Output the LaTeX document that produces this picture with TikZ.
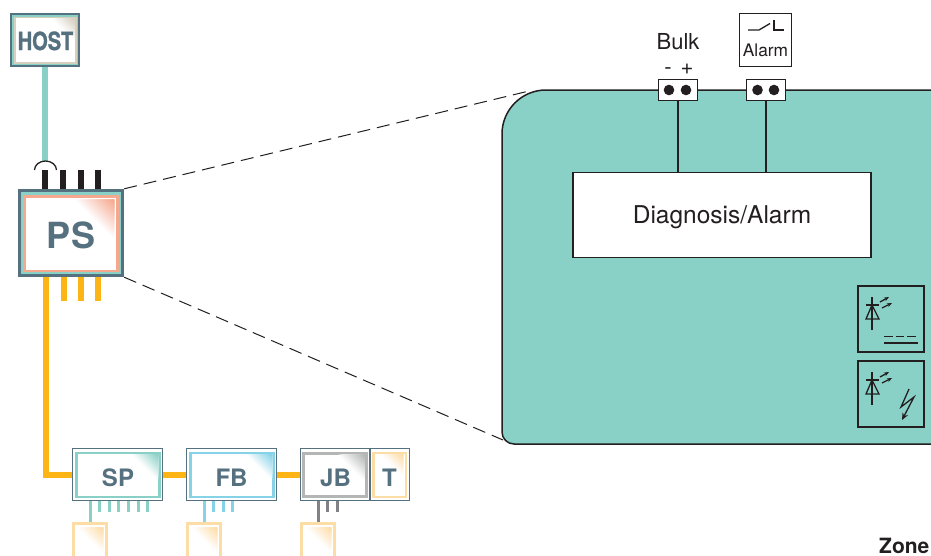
\documentclass[tikz,border=0pt]{standalone}
\usepackage{fontspec}
\setmainfont{TeX Gyre Heros}
\usetikzlibrary{arrows.meta}
\definecolor{slate}{HTML}{55707F}
\definecolor{teal1}{HTML}{89D1C7}
\definecolor{amberline}{HTML}{FDB515}
\definecolor{salmon}{HTML}{F5A88E}
\definecolor{sand}{HTML}{D5CFBE}
\definecolor{sky}{HTML}{86D3E8}
\definecolor{greyb}{HTML}{B4B6B6}
\definecolor{greyl}{HTML}{808285}
\definecolor{peach}{HTML}{FDDDA6}
\definecolor{ink}{HTML}{231F20}
\tikzset{
  x=1pt,y=-1pt,
  lbl/.style={font=\bfseries\fontsize{#1}{#1}\selectfont,text=slate,inner sep=0pt,anchor=base},
  plain/.style={font=\fontsize{#1}{#1}\selectfont,text=ink,inner sep=0pt,anchor=base},
  bus/.style={amberline,line width=6pt},
  wire/.style={ink,line width=1.6pt},
  zoomline/.style={ink,line width=1pt,dash pattern=on 13pt off 7pt},
  sym/.style={ink,line width=1.3pt},
  shell/.style={fill=slate,inner sep=0pt,minimum width=#1},
  symbox/.style={draw=ink,line width=1.6pt,minimum width=66pt,minimum height=66pt,inner sep=0pt},
  term/.style={draw=ink,fill=white,line width=1.5pt,minimum width=39pt,minimum height=21pt,inner sep=0pt},
  dot/.style={ink},
  thin stub/.style={line width=3pt},
}
% \cornerfade{x of corner}{y of corner}{leg}{colour}: triangle, full colour in the corner, white on its diagonal
\newcommand{\cornerfade}[4]{%
  \foreach \i in {0,...,23}{%
    \pgfmathsetmacro{\legnow}{#3*(1-\i/24)}%
    \pgfmathsetmacro{\pct}{(\i+1)*100/24}%
    \fill[#4!\pct!white] (#1-\legnow,#2) -- (#1,#2) -- (#1,#2+\legnow) -- cycle;
  }}
\newcommand{\diodesym}[1]{%
  \draw[sym] (872,#1+297) -- (872,#1+330);
  \draw[sym] (866,#1+305) -- (879,#1+305);
  \draw[sym,line join=miter] (872,#1+305) -- (879,#1+319) -- (866,#1+319) -- cycle;
  \draw[sym,-{Stealth[length=5pt,width=4pt]}] (880,#1+302) -- (889,#1+297);
  \draw[sym,-{Stealth[length=5pt,width=4pt]}] (882,#1+308) -- (892,#1+303);
}
\begin{document}
\begin{tikzpicture}
\useasboundingbox (0,0) rectangle (931,555);
\fill[white] (0,0) rectangle (931,555);

% HOST
\node[shell=70pt,minimum height=54pt] (hostbox) at (45,40) {};
\fill[teal1] (12,15) rectangle (78,65);
\fill[sand] (13.5,16.5) rectangle (76.5,63.5);
\fill[white] (16,18) rectangle (75,62);
\cornerfade{74.5}{18.5}{22}{sand}
\node[lbl=25] (host) at (45.5,50) {\addfontfeature{FakeStretch=0.8,FakeBold=1.2}HOST};

% PS
\node[shell=106pt,minimum height=88pt] (psbox) at (71,233) {};
\fill[teal1] (21,192) rectangle (121,274);
\fill[salmon] (23,194.5) rectangle (119,272);
\fill[white] (26,197.5) rectangle (116,269.5);
\cornerfade{114}{199.5}{39}{salmon}
\node[lbl=36] (ps) at (71,248) {PS};

% Field modules
\node[shell=91pt,minimum height=53pt] (spbox) at (117.5,474.5) {};
\fill[white] (73,449) rectangle (162,500);
\fill[teal1] (75,451.5) rectangle (160.5,498);
\fill[white] (77.5,454) rectangle (158,495.5);
\cornerfade{158}{454}{26}{teal1}
\node[lbl=24] (sp) at (118,486) {SP};

\node[shell=91pt,minimum height=53pt] (fbbox) at (231.5,474.5) {};
\fill[white] (187,449) rectangle (276,500);
\fill[sky] (189,451.5) rectangle (274.5,498);
\fill[white] (191.5,454) rectangle (272,495.5);
\cornerfade{272}{454}{26}{sky}
\node[lbl=24] (fb) at (231.5,486) {FB};

\node[shell=110pt,minimum height=53pt] (jbbox) at (355,474.5) {};
\fill[white] (301,449) rectangle (409,500);
\fill[slate] (369,449) rectangle (370.5,501);
\fill[greyb] (302,451.5) rectangle (367.5,498);
\fill[white] (305,454.5) rectangle (364.5,495);
\cornerfade{364.5}{454.5}{26}{greyb}
\node[lbl=24] (jb) at (335.5,486) {JB};
\fill[peach] (372,451.5) rectangle (407,498);
\fill[white] (374.5,454) rectangle (404.5,495.5);
\cornerfade{403}{454}{22}{peach}
\node[lbl=24] (t) at (389.5,486) {T};

% Devices cut by the page edge
\foreach \nm/\cx in {deva/90,devb/204,devc/318}{
  \node[fill=peach,inner sep=0pt,minimum width=36pt,minimum height=34pt] (\nm) at (\cx,539) {};
  \fill[white] (\cx-15,525) rectangle (\cx+15,556);
  \cornerfade{\cx+13}{527.5}{25}{peach}
}

% Links
\coordinate (hostend) at (45,161);
\draw[teal1,line width=6pt] (hostbox.south) -- (hostend);
\coordinate (busstart) at (46,277);
\draw[bus] (busstart) |- (spbox.west);
\draw[bus] (spbox.east) -- (fbbox.west);
\draw[bus] (fbbox.east) -- (jbbox.west);
\foreach \x in {63.7,81,98.3}{\draw[bus] (\x,277) -- (\x,301);}
\foreach \x in {45.3,63.3,81,98.3}{\draw[ink,line width=6pt] (\x,170) -- (\x,189);}
\draw[ink,line width=1.3pt] (34.5,170) arc[start angle=180,end angle=360,x radius=11,y radius=9];

% Stubs under the modules
\draw[teal1,thin stub] (spbox.south -| deva.north) -- (deva.north);
\foreach \x in {99.3,109,118.7,128.3,138,147.7}{\draw[teal1,thin stub] (\x,501) -- (\x,512);}
\draw[sky,thin stub] (fbbox.south -| devb.north) -- (devb.north);
\foreach \x in {213.3,223,232.7}{\draw[sky,thin stub] (\x,501) -- (\x,512);}
\draw[greyl,thin stub] (jbbox.south -| devc.north) -- (devc.north);
\foreach \x in {327.7,337.3}{\draw[greyl,thin stub] (\x,501) -- (\x,512);}

% Zoom lines
\coordinate (za) at (529,91);
\coordinate (zb) at (503,440);
\draw[zoomline] (psbox.north east) -- (za);
\draw[zoomline] (psbox.south east) -- (zb);

% Enlarged PS
\path[fill=teal1,draw=ink,line width=1.5pt] (932,90) -- (546,90)
  arc[start angle=-90,end angle=-180,radius=44] -- (502,432)
  arc[start angle=180,end angle=90,radius=12] -- (932,444);

\node[draw=ink,fill=white,line width=1.5pt,minimum width=298pt,minimum height=85pt,inner sep=0pt] (diag) at (722,215) {};
\node[plain=24.5] (diagt) at (722,223) {Diagnosis/Alarm};

\node[term] (tba) at (678,90) {};
\node[term] (tbb) at (766,90) {};
\foreach \x in {669,686,757.5,774}{\fill[dot] (\x,90) circle[radius=5.3];}
\draw[wire] (tba.south) -- (tba.south |- diag.north);
\draw[wire] (tbb.south) -- (tbb.south |- diag.north);

\node[plain=22] (bulk) at (678,49) {Bulk};
\node[plain=22] (minus) at (668,74) {-};
\node[plain=22] (plus) at (687,74) {+};

\node[draw=ink,fill=white,line width=1.5pt,minimum width=52pt,minimum height=53pt,inner sep=0pt] (alarmbox) at (765.5,40) {};
\node[plain=17.3] (alarm) at (765.5,56) {Alarm};
\draw[sym] (748,30) -- (759,30) -- (770,23.5);
\draw[sym] (774,20) -- (774,30) -- (784,30);

% Protection symbols
\node[symbox] (syma) at (891,319) {};
\node[symbox] (symb) at (891,394) {};
\diodesym{0}
\diodesym{75}
\draw[sym,dash pattern=on 8.5pt off 3pt] (884,336.5) -- (918,336.5);
\draw[sym] (884,343) -- (918,343);
\draw[sym,-{Stealth[length=7pt,width=6pt]},line join=miter] (909,389) -- (901,407) -- (914,397) -- (902,420);

\node[lbl=21,text=ink,anchor=base west] (zone) at (879,553) {Zone};
\end{tikzpicture}
\end{document}
